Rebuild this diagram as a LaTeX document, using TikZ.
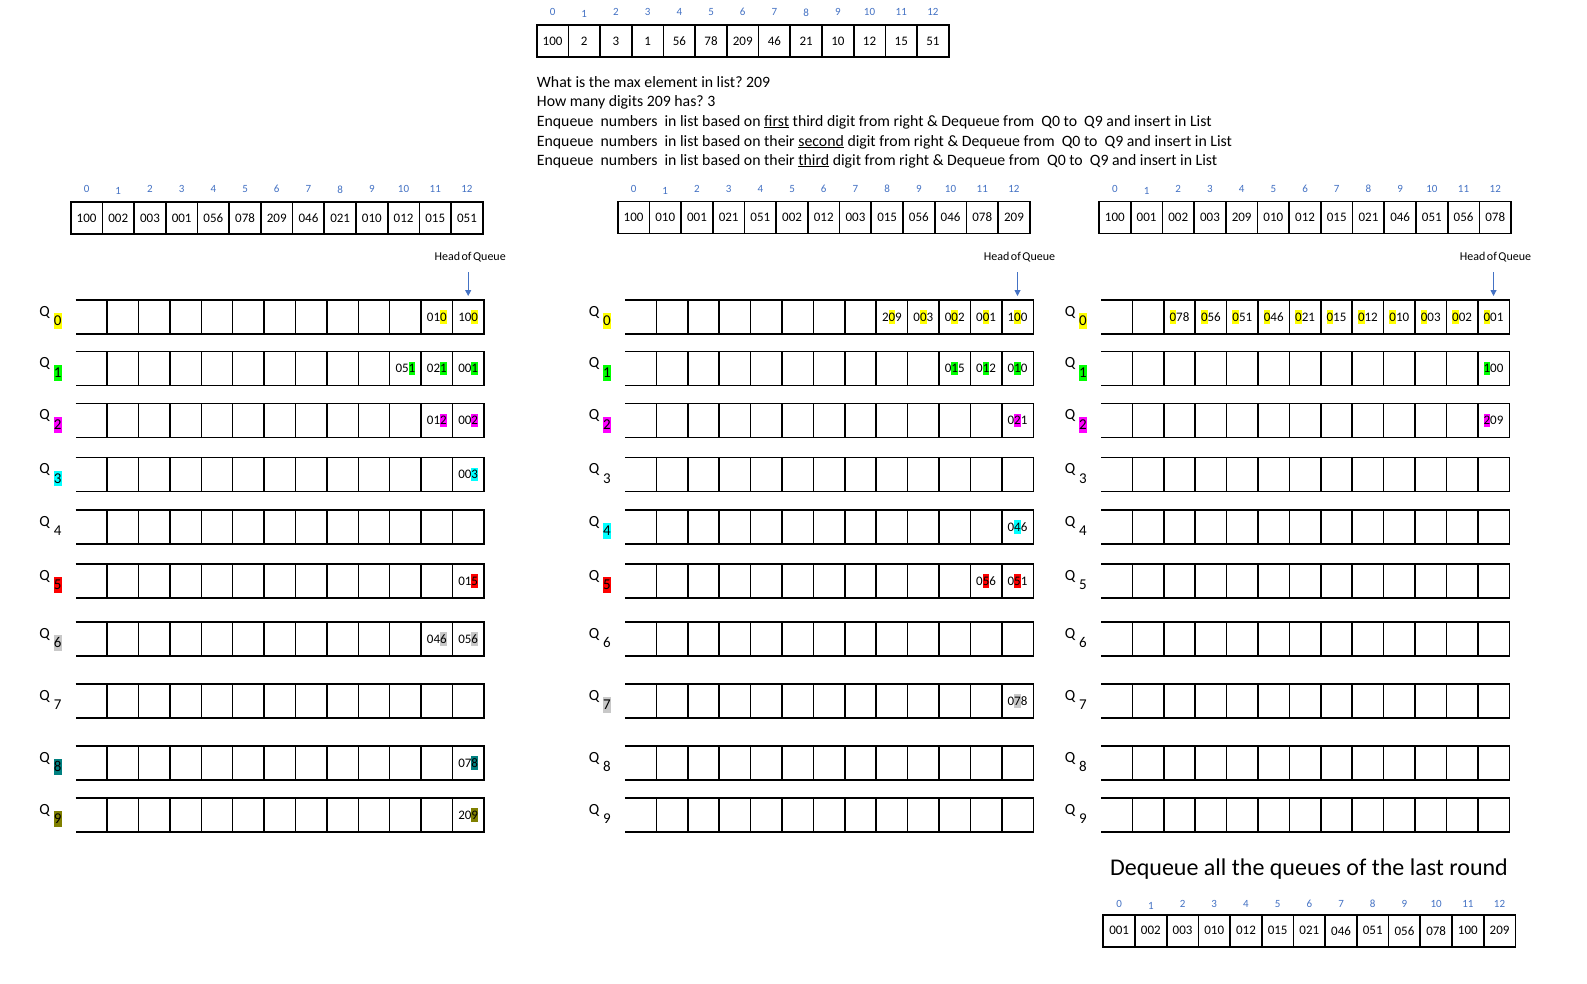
\documentclass[tikz,border=0pt]{standalone}
\usepackage{fontspec}
\setmainfont{Carlito}
\usetikzlibrary{arrows.meta}
\frenchspacing
\definecolor{idxblue}{HTML}{4472C4}
\definecolor{hy}{HTML}{FFFF00}
\definecolor{hg}{HTML}{00FF00}
\definecolor{hm}{HTML}{FF00FF}
\definecolor{hc}{HTML}{00FFFF}
\definecolor{hr}{HTML}{FF0000}
\definecolor{hgr}{HTML}{C8C8C8}
\definecolor{ht}{HTML}{008080}
\definecolor{ho}{HTML}{808000}
\newcommand{\hlx}[2]{{\setlength{\fboxsep}{0pt}\colorbox{#1}{\rule[-0.2em]{0pt}{1.04em}#2}}}
\newcommand{\drawarray}[5]{% prefix, x0, y centre, index y, values
  \foreach \v [count=\i from 0] in {#5} {
    \pgfmathsetmacro{\dy}{ifthenelse(\i==1,2,0)}
    \node[cell] (#1A-\i) at ({#2+(\i+0.5)*31.7},#3) {\v};
    \node[idx] (#1I-\i) at ({#2+(\i+0.5)*31.7},{#4+\dy}) {\i};
  }}
\begin{document}
\begin{tikzpicture}[x=1pt,y=-1pt,
  cell/.style={draw, line width=1.7pt, minimum width=31.7pt, minimum height=32pt, inner sep=0pt, font=\fontsize{13}{15}\selectfont},
  idx/.style={text=idxblue, inner sep=0pt, font=\fontsize{11}{13}\selectfont},
  qline/.style={line width=1.5pt},
  qt/.style={inner sep=0pt, font=\fontsize{13}{15}\selectfont},
  qlab/.style={inner sep=0pt, font=\fontsize{15.5}{17}\selectfont},
  qsub/.style={inner sep=0pt, font=\fontsize{15}{17}\selectfont},
  hoq/.style={inner sep=0pt, font=\fontsize{12}{14}\selectfont},
  hoqarr/.style={draw=idxblue, line width=1pt, -{Triangle[width=6pt,length=6pt]}},
  info/.style={anchor=base west, inner sep=0pt, font=\fontsize{15.8}{18}\selectfont},
  title/.style={inner sep=0pt, font=\fontsize{24}{28}\selectfont}
]
\useasboundingbox[fill=white] (0,0) rectangle (1587,983);

% top list and text
\drawarray{T}{536.7}{41.2}{12.3}{100,2,3,1,56,78,209,46,21,10,12,15,51}
\node[info] (t1) at (536.7,87.7) {What is the max element in list? 209};
\node[info] (t2) at (536.7,106.7) {How many digits 209 has? 3};
\node[info] (t3) at (536.7,126) {Enqueue\ \ numbers\ \ in list based on \underline{first} third digit from right \& Dequeue from\ \ Q0 to\ \ Q9 and insert in List};
\node[info] (t4) at (536.7,146) {Enqueue\ \ numbers\ \ in list based on their \underline{second} digit from right \& Dequeue from\ \ Q0 to\ \ Q9 and insert in List};
\node[info] (t5) at (536.7,165) {Enqueue\ \ numbers\ \ in list based on their \underline{third} digit from right \& Dequeue from\ \ Q0 to\ \ Q9 and insert in List};

% panel lists
\drawarray{L}{70.7}{218}{189.3}{100,002,003,001,056,078,209,046,021,010,012,015,051}
\drawarray{M}{617.7}{217.5}{189}{100,010,001,021,051,002,012,003,015,056,046,078,209}
\drawarray{R}{1099}{217.5}{189}{100,001,002,003,209,010,012,015,021,046,051,056,078}

% head of queue markers
\foreach \p/\xc in {L/468.2,M/1017.5,R/1493.5} {
  \node[hoq] (\p H) at ({\xc+2},257) {Head\hspace{1.5pt}of\hspace{1.5pt}Queue};
  \coordinate (\p Hs) at (\xc,272);
  \coordinate (\p He) at (\xc,296);
  \draw[hoqarr] (\p Hs) -- (\p He);
}

% queues
\foreach \yt [count=\r from 0] in {300,351.7,403.7,457.3,510,564,622,684,746,798} {
  \foreach \xs in {75.7,625,1101} {
    \draw[qline] (\xs,\yt) -- ++(408.3,0) -- ++(0,34) -- ++(-408.3,0);
    \foreach \k in {1,...,12} \draw[qline] ({\xs+\k*31.4},\yt) -- ++(0,34);
  }
}

% queue labels
\foreach \r/\c in {0/hy,1/hg,2/hm,3/hc,4/white,5/hr,6/hgr,7/white,8/ht,9/ho} {
  \pgfmathsetmacro{\yt}{{300,351.7,403.7,457.3,510,564,622,684,746,798}[\r]}
  \node[qlab] (LQ-\r) at (44.7,{\yt+12}) {Q};
  \node[qsub] (LS-\r) at (57.7,{\yt+21}) {\hlx{\c}{\r}};
}
\foreach \r/\c in {0/hy,1/hg,2/hm,3/white,4/hc,5/hr,6/white,7/hgr,8/white,9/white} {
  \pgfmathsetmacro{\yt}{{300,351.7,403.7,457.3,510,564,622,684,746,798}[\r]}
  \node[qlab] (MQ-\r) at (594,{\yt+12}) {Q};
  \node[qsub] (MS-\r) at (607,{\yt+21}) {\hlx{\c}{\r}};
}
\foreach \r/\c in {0/hy,1/hg,2/hm,3/white,4/white,5/white,6/white,7/white,8/white,9/white} {
  \pgfmathsetmacro{\yt}{{300,351.7,403.7,457.3,510,564,622,684,746,798}[\r]}
  \node[qlab] (RQ-\r) at (1070,{\yt+12}) {Q};
  \node[qsub] (RS-\r) at (1083,{\yt+21}) {\hlx{\c}{\r}};
}

% queue contents, left (first digit from right)
\foreach \r/\k/\t in {0/11/{01\hlx{hy}{0}}, 0/12/{10\hlx{hy}{0}},
  1/10/{05\hlx{hg}{1}}, 1/11/{02\hlx{hg}{1}}, 1/12/{00\hlx{hg}{1}},
  2/11/{01\hlx{hm}{2}}, 2/12/{00\hlx{hm}{2}},
  3/12/{00\hlx{hc}{3}}, 5/12/{01\hlx{hr}{5}},
  6/11/{04\hlx{hgr}{6}}, 6/12/{05\hlx{hgr}{6}},
  8/12/{07\hlx{ht}{8}}, 9/12/{20\hlx{ho}{9}}} {
  \pgfmathsetmacro{\yt}{{300,351.7,403.7,457.3,510,564,622,684,746,798}[\r]}
  \node[qt] (L-\r-\k) at ({75.7+(\k+0.5)*31.4},{\yt+17}) {\t};
}
% middle (second digit)
\foreach \r/\k/\t in {0/8/{2\hlx{hy}{0}9}, 0/9/{0\hlx{hy}{0}3}, 0/10/{0\hlx{hy}{0}2}, 0/11/{0\hlx{hy}{0}1}, 0/12/{1\hlx{hy}{0}0},
  1/10/{0\hlx{hg}{1}5}, 1/11/{0\hlx{hg}{1}2}, 1/12/{0\hlx{hg}{1}0},
  2/12/{0\hlx{hm}{2}1}, 4/12/{0\hlx{hc}{4}6},
  5/11/{0\hlx{hr}{5}6}, 5/12/{0\hlx{hr}{5}1},
  7/12/{0\hlx{hgr}{7}8}} {
  \pgfmathsetmacro{\yt}{{300,351.7,403.7,457.3,510,564,622,684,746,798}[\r]}
  \node[qt] (M-\r-\k) at ({625+(\k+0.5)*31.4},{\yt+17}) {\t};
}
% right (third digit)
\foreach \k/\t in {2/78,3/56,4/51,5/46,6/21,7/15,8/12,9/10,10/03,11/02,12/01} {
  \node[qt] (R-0-\k) at ({1101+(\k+0.5)*31.4},317) {\hlx{hy}{0}\t};
}
\node[qt] (R-1-12) at ({1101+12.5*31.4},368.7) {\hlx{hg}{1}00};
\node[qt] (R-2-12) at ({1101+12.5*31.4},420.7) {\hlx{hm}{2}09};

% final result
\node[title] (fin) at (1309,869) {Dequeue all the queues of the last round};
\drawarray{B}{1103.3}{930.8}{904}{001,002,003,010,012,015,021,046,051,056,078,100,209}
\end{tikzpicture}
\end{document}
